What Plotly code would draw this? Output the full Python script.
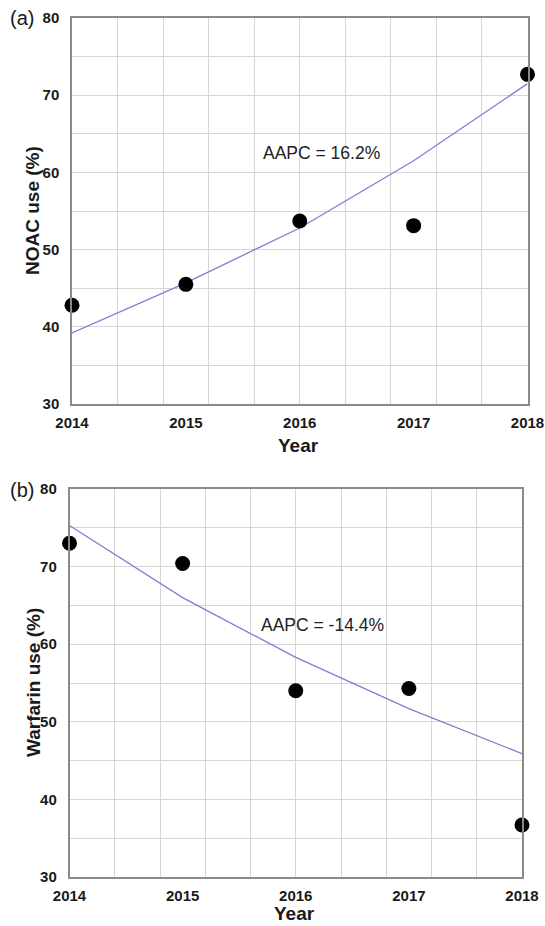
import plotly.graph_objects as go

years = [2014, 2015, 2016, 2017, 2018]
year_labels = ["2014", "2015", "2016", "2017", "2018"]
noac_obs = [42.8, 45.5, 53.7, 53.1, 72.7]
noac_fit = [39.2, 45.7, 52.8, 61.5, 71.5]
warf_obs = [73.0, 70.4, 54.0, 54.3, 36.7]
warf_fit = [75.3, 66.0, 58.3, 51.7, 45.9]
y_ticks = [30, 40, 50, 60, 70, 80]
noac_text = "AAPC = 16.2%"
warf_text = "AAPC = -14.4%"

W, H = 545, 926
FONT = "Liberation Sans, Arial, sans-serif"
LINE_COL = "#7f7fd2"
GRID_COL = "#d6d6d6"
BOX_COL = "#8a8a8a"

fig = go.Figure()

def px_x(p):
    return p / W

def px_y(p):
    return 1 - p / H

panels = [
    dict(xa="x", ya="y", xd=[72, 527.5], yd=[18, 404], obs=noac_obs, fit=noac_fit,
         title="NOAC use (%)", text=noac_text, tx=2016.19, ty=62.5, lab="(a)", lab_y=18,
         year_y=445),
    dict(xa="x2", ya="y2", xd=[69.5, 522], yd=[489, 877], obs=warf_obs, fit=warf_fit,
         title="Warfarin use (%)", text=warf_text, tx=2016.24, ty=62.5, lab="(b)", lab_y=490,
         year_y=913),
]

annotations = []
for i, p in enumerate(panels):
    fig.add_trace(go.Scatter(x=years, y=p["fit"], mode="lines",
                             line=dict(color=LINE_COL, width=1.3),
                             xaxis=p["xa"], yaxis=p["ya"], showlegend=False,
                             cliponaxis=False))
    fig.add_trace(go.Scatter(x=years, y=p["obs"], mode="markers",
                             marker=dict(color="black", size=15),
                             xaxis=p["xa"], yaxis=p["ya"], showlegend=False,
                             cliponaxis=False))
    suffix = "" if i == 0 else "2"
    xaxis = dict(
        domain=[px_x(p["xd"][0]), px_x(p["xd"][1])],
        range=[2014, 2018], anchor="y" + suffix,
        tickmode="array", tickvals=years, ticktext=year_labels,
        showgrid=False, zeroline=False,
        showline=True, linecolor=BOX_COL, linewidth=1.5, mirror=True,
        ticks="outside", ticklen=4, tickcolor="rgba(0,0,0,0)",
        tickfont=dict(family=FONT, size=15, color="#1a1a1a", weight="bold"),
        minor=dict(tick0=2014, dtick=0.4, showgrid=True, gridcolor=GRID_COL,
                   gridwidth=1, ticks=""),
        automargin=False, fixedrange=True,
    )
    yaxis = dict(
        domain=[px_y(p["yd"][1]), px_y(p["yd"][0])],
        range=[30, 80], anchor="x" + suffix,
        tickmode="array", tickvals=y_ticks,
        showgrid=True, gridcolor=GRID_COL, gridwidth=1, zeroline=False,
        showline=True, linecolor=BOX_COL, linewidth=1.5, mirror=True,
        ticks="outside", ticklen=8, tickcolor="rgba(0,0,0,0)",
        tickfont=dict(family=FONT, size=15, color="#1a1a1a", weight="bold"),
        minor=dict(tick0=30, dtick=5, showgrid=True, gridcolor=GRID_COL,
                   gridwidth=1, ticks=""),
        automargin=False, fixedrange=True,
    )
    fig.update_layout({"xaxis" + suffix: xaxis, "yaxis" + suffix: yaxis})

    annotations.append(dict(x=p["tx"], y=p["ty"], xref=p["xa"], yref=p["ya"],
                            text=p["text"], showarrow=False,
                            font=dict(family=FONT, size=17.5, color="#222222")))
    cx = (p["xd"][0] + p["xd"][1]) / 2 - 1
    annotations.append(dict(x=px_x(cx), y=px_y(p["year_y"]), xref="paper", yref="paper",
                            text="Year", showarrow=False, xanchor="center", yanchor="middle",
                            font=dict(family=FONT, size=19, color="#1a1a1a", weight="bold")))
    cy = (p["yd"][0] + p["yd"][1]) / 2
    annotations.append(dict(x=px_x(33), y=px_y(cy), xref="paper", yref="paper",
                            text=p["title"], showarrow=False, textangle=-90,
                            xanchor="center", yanchor="middle",
                            font=dict(family=FONT, size=19, color="#1a1a1a", weight="bold")))
    annotations.append(dict(x=px_x(22), y=px_y(p["lab_y"]), xref="paper", yref="paper",
                            text=p["lab"], showarrow=False, xanchor="center", yanchor="middle",
                            font=dict(family=FONT, size=20, color="#1a1a1a")))

fig.update_layout(
    width=W, height=H,
    margin=dict(l=0, r=0, t=0, b=0),
    paper_bgcolor="white", plot_bgcolor="white",
    annotations=annotations,
    showlegend=False,
)

fig.write_html(
    "out.html",
    config={"displayModeBar": False},
    post_script="document.documentElement.style.margin='0';"
                "document.body.style.margin='0';"
                "document.body.style.overflow='hidden';",
)
